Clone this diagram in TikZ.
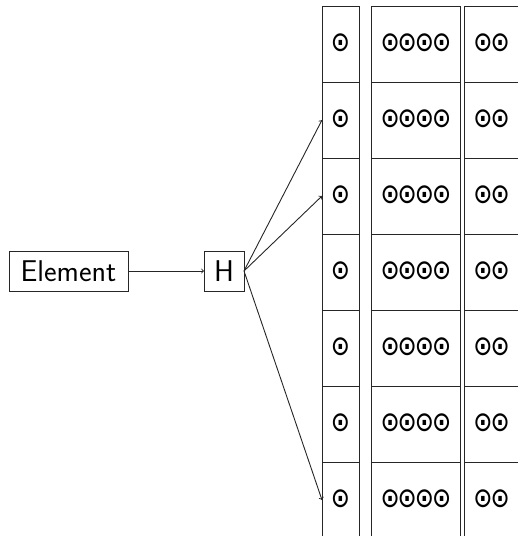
\documentclass[tikz,border=0pt]{standalone}
\usepackage{fontspec}
\newfontfamily\dmono{DejaVu Sans Mono}
\newcommand{\odots}[1]{\scalebox{1}[1.2]{#1}}
\begin{document}
\begin{tikzpicture}[x=1pt,y=-1pt,
  box/.style={draw=black!85, line width=1pt, inner sep=0pt, outer sep=0pt,
    font=\sffamily\fontsize{30}{36}\selectfont},
  cell/.style={draw=black!85, line width=1pt, inner sep=0pt, outer sep=0pt,
    minimum height=76pt, font=\dmono\fontsize{28.5}{34}\selectfont},
  cola/.style={cell, minimum width=37pt},
  colb/.style={cell, minimum width=89.7pt},
  colc/.style={cell, minimum width=55pt},
  link/.style={->, line width=0.9pt, draw=black!85}]
\useasboundingbox (0,0) rectangle (518,536);
\clip (0,0) rectangle (518,536);
\node[box, minimum width=119pt, minimum height=40pt] (el) at (68.5,271) {Element};
\node[box, minimum width=40pt, minimum height=40pt] (h) at (224,271) {H};
\foreach \i in {1,...,7} {
  \node[cola] (a\i) at (340.5,{44+76*(\i-1)}) {\odots{⊙}};
  \node[colb] (b\i) at (415.9,{44+76*(\i-1)}) {\odots{⊙⊙⊙⊙}};
  \node[colc] (c\i) at (491.5,{44+76*(\i-1)}) {\odots{⊙⊙}};
}
\draw[link] (el) -- (h);
\draw[link] (h.east) -- (a2.west);
\draw[link] (h.east) -- (a3.west);
\draw[link] (h.east) -- (a7.west);
\end{tikzpicture}
\end{document}
